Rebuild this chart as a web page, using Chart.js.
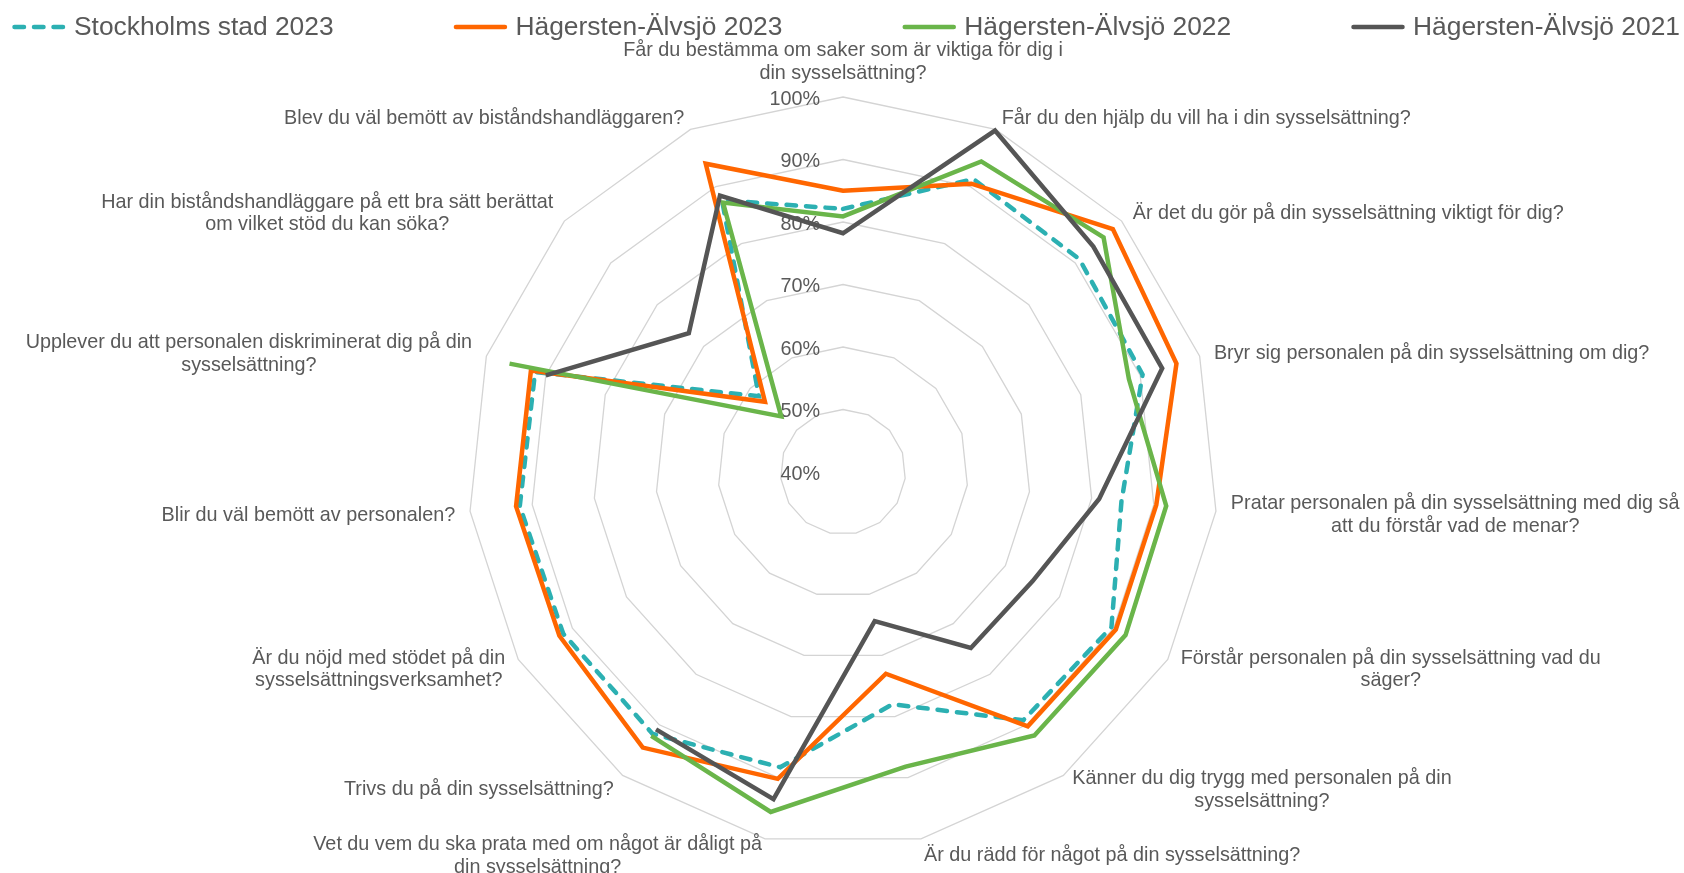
<!DOCTYPE html>
<html lang="sv">
<head>
<meta charset="utf-8">
<title>Sysselsättning – radar</title>
<script src="https://cdn.jsdelivr.net/npm/chart.js@4.4.1/dist/chart.umd.min.js"></script>
<style>
    html, body { margin: 0; padding: 0; background: #ffffff; }
    #wrap { width: 1684px; height: 873px; position: relative; }
</style>
</head>
<body>
<div id="wrap"><canvas id="radarChart"></canvas></div>
<script>
// Frågor (radbrutna som i originalet)
const categories = [
    ['Får du bestämma om saker som är viktiga för dig i', 'din sysselsättning?'],
    ['Får du den hjälp du vill ha i din sysselsättning?'],
    ['Är det du gör på din sysselsättning viktigt för dig?'],
    ['Bryr sig personalen på din sysselsättning om dig?'],
    ['Pratar personalen på din sysselsättning med dig så', 'att du förstår vad de menar?'],
    ['Förstår personalen på din sysselsättning vad du', 'säger?'],
    ['Känner du dig trygg med personalen på din', 'sysselsättning?'],
    ['Är du rädd för något på din sysselsättning?'],
    ['Vet du vem du ska prata med om något är dåligt på', 'din sysselsättning?'],
    ['Trivs du på din sysselsättning?'],
    ['Är du nöjd med stödet på din', 'sysselsättningsverksamhet?'],
    ['Blir du väl bemött av personalen?'],
    ['Upplever du att personalen diskriminerat dig på din', 'sysselsättning?'],
    ['Har din biståndshandläggare på ett bra sätt berättat', 'om vilket stöd du kan söka?'],
    ['Blev du väl bemött av biståndshandläggaren?']
];

// Andel (%) per fråga
const stockholm2023 = [82.1, 91.3, 90.9, 90.4, 84.8, 89.6, 89.1, 78.0, 88.3, 91.8, 91.7, 92.0, 91.8, 58.1, 87.6];
const hagersten2023 = [85.0, 90.5, 98.1, 96.1, 90.4, 90.4, 90.3, 73.0, 90.2, 94.5, 92.4, 92.6, 92.5, 56.8, 94.0];
const hagersten2022 = [80.9, 94.4, 96.1, 88.1, 92.0, 92.2, 92.1, 88.2, 95.6, 92.2, null, null, 96.1, 53.3, 87.2];
const hagersten2021 = [78.2, 99.8, 93.9, 93.7, 81.2, 75.0, 74.8, 64.4, 93.5, 90.9, null, null, 90.0, 73.2, 88.4];

const tickValues = [40, 50, 60, 70, 80, 90, 100];
const tickLabels = ['40%', '50%', '60%', '70%', '80%', '90%', '100%'];

const FONT = "'Liberation Sans', Arial, sans-serif";
const TEXT_COLOR = '#595959';
const LABEL_SIZE = 19.8;
const LINE_H = 22.8;
const LEGEND_SIZE = 26.4;
const TEXT_SHIFT = 2.5; // middle-baseline sits a bit high

// Etiketter, tick-texter och förklaring ritas som i Excel
const excelLook = {
    id: 'excelLook',
    beforeDatasetsDraw(chart) {
        const scale = chart.scales.r;
        const ctx = chart.ctx;
        ctx.save();
        ctx.fillStyle = TEXT_COLOR;
        ctx.font = LABEL_SIZE + 'px ' + FONT;
        ctx.textBaseline = 'middle';

        // tick labels, right aligned left of the centre line
        ctx.textAlign = 'right';
        tickValues.forEach((v, i) => {
            const y = scale.yCenter - scale.getDistanceFromCenterForValue(v);
            ctx.fillText(tickLabels[i], scale.xCenter - 23, y + TEXT_SHIFT);
        });

        // category labels
        ctx.textAlign = 'center';
        chart.data.labels.forEach((lines, i) => {
            const ang = scale.getIndexAngle(i);
            const s = Math.sin(ang);
            const c = Math.cos(ang);
            const p = scale.getPointPosition(i, scale.drawingArea + 15);
            const w = Math.max(...lines.map(l => ctx.measureText(l).width));
            const h = lines.length * LINE_H;
            let cx, top;
            if (Math.abs(s) < 0.01) {
                cx = p.x;
                top = c > 0 ? p.y - h : p.y;
            } else {
                cx = s > 0 ? p.x + w / 2 : p.x - w / 2;
                top = p.y - h / 2;
            }
            lines.forEach((l, k) => ctx.fillText(l, cx, top + LINE_H * (k + 0.5) + TEXT_SHIFT));
        });
        ctx.restore();
    },
    afterDraw(chart) {
        const ctx = chart.ctx;
        const lineLen = 54;
        const textGap = 8;
        const y = 27;
        ctx.save();
        ctx.font = LEGEND_SIZE + 'px ' + FONT;
        const items = chart.data.datasets.map(ds => ({
            ds: ds,
            w: lineLen + textGap + ctx.measureText(ds.label).width
        }));
        const total = items.reduce((a, it) => a + it.w, 0);
        const left = 12;
        const right = chart.width - 4;
        const gap = (right - left - total) / (items.length - 1);
        let x = left;
        items.forEach(it => {
            ctx.strokeStyle = it.ds.borderColor;
            ctx.lineWidth = it.ds.borderWidth;
            ctx.lineCap = 'round';
            ctx.setLineDash(it.ds.borderDash || []);
            ctx.beginPath();
            ctx.moveTo(x + 2.5, y);
            ctx.lineTo(x + lineLen - 2.5, y);
            ctx.stroke();
            ctx.setLineDash([]);
            ctx.fillStyle = TEXT_COLOR;
            ctx.textAlign = 'left';
            ctx.textBaseline = 'middle';
            ctx.fillText(it.ds.label, x + lineLen + textGap, y + 1);
            x += it.w + gap;
        });
        ctx.restore();
    }
};

const ctx = document.getElementById('radarChart');

new Chart(ctx, {
    type: 'radar',
    data: {
        labels: categories,
        datasets: [
            {
                label: 'Stockholms stad 2023',
                data: stockholm2023,
                borderColor: '#2cb0b2',
                borderWidth: 4.5,
                borderDash: [9.5, 10],
                borderCapStyle: 'round',
                fill: false,
                order: 3
            },
            {
                label: 'Hägersten-Älvsjö 2023',
                data: hagersten2023,
                borderColor: '#ff6600',
                borderWidth: 4.5,
                fill: false,
                order: 2
            },
            {
                label: 'Hägersten-Älvsjö 2022',
                data: hagersten2022,
                borderColor: '#6ab54a',
                borderWidth: 4.5,
                fill: false,
                order: 1
            },
            {
                label: 'Hägersten-Älvsjö 2021',
                data: hagersten2021,
                borderColor: '#555555',
                borderWidth: 4.5,
                fill: false,
                order: 0
            }
        ]
    },
    options: {
        responsive: true,
        maintainAspectRatio: false,
        animation: false,
        events: [],
        layout: {
            padding: { top: 97, bottom: 26, left: 2, right: 0 }
        },
        elements: {
            point: { radius: 0, hoverRadius: 0 },
            line: { tension: 0, borderJoinStyle: 'miter' }
        },
        plugins: {
            legend: { display: false },
            tooltip: { enabled: false }
        },
        scales: {
            r: {
                min: 40,
                max: 100,
                ticks: { display: false, stepSize: 10 },
                grid: { color: '#d4d4d4', lineWidth: 1.3, circular: false },
                angleLines: { display: false },
                pointLabels: { display: false }
            }
        }
    },
    plugins: [excelLook]
});
</script>
</body>
</html>
